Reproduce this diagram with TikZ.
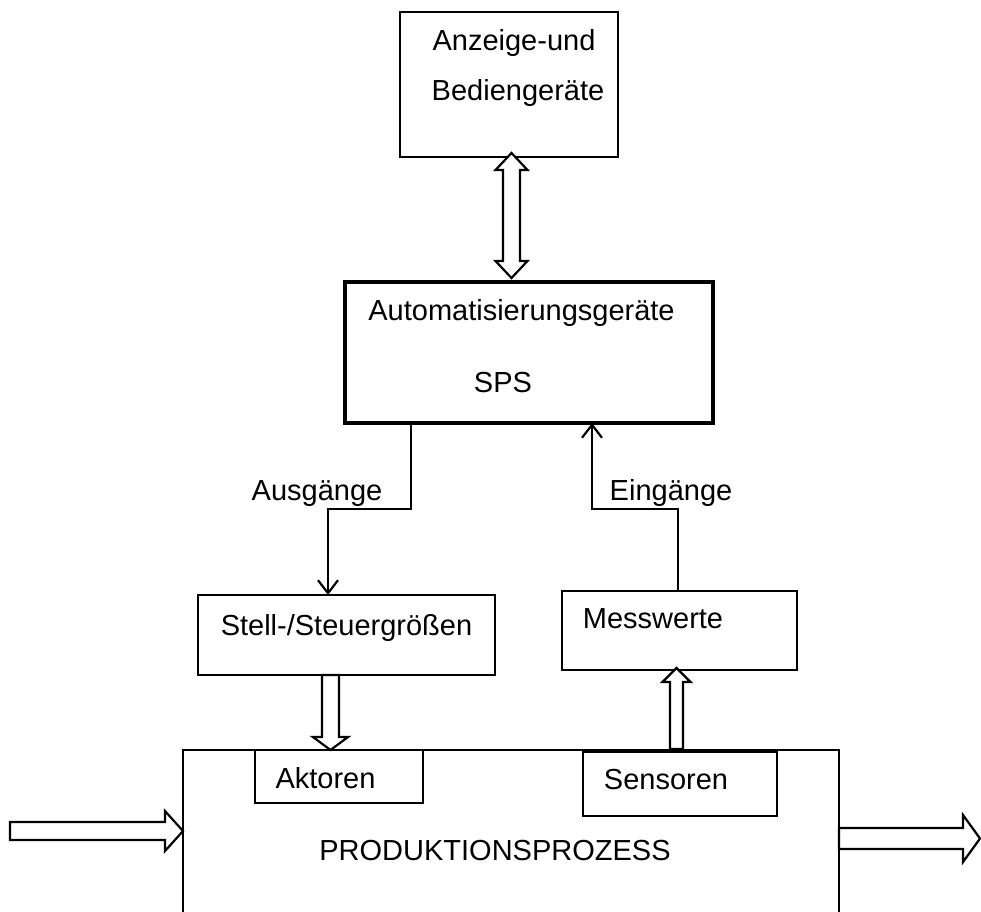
\documentclass[tikz,border=0pt]{standalone}
\usepackage{fontspec}
\setmainfont{Liberation Sans}
\usetikzlibrary{arrows.meta,calc}

\tikzset{
  box/.style={draw,line width=2.2pt,outer sep=0pt,inner sep=0pt},
  spsbox/.style={box,line width=4.7pt},
  txt/.style={inner sep=0pt,anchor=base,font=\fontsize{29}{35}\selectfont},
  link/.style={line width=2.2pt,-{Straight Barb[length=13pt,width=20pt]}},
  hollow/.style={draw,line width=2.2pt,fill=white}
}

\newcommand{\hollowarrow}[5]{%
  \coordinate (hb) at ($(#2)!#5!(#1)$);
  \draw[hollow] ($(#1)!#3!90:(#2)$) -- ($(hb)!#3!-90:(#1)$) -- ($(hb)!#4!-90:(#1)$) -- (#2)
    -- ($(hb)!#4!90:(#1)$) -- ($(hb)!#3!90:(#1)$) -- ($(#1)!#3!-90:(#2)$) -- cycle;}

\newcommand{\hollowdarrow}[5]{%
  \coordinate (ha) at ($(#1)!#5!(#2)$);
  \coordinate (hb) at ($(#2)!#5!(#1)$);
  \draw[hollow] (#1) -- ($(ha)!#4!90:(#2)$) -- ($(ha)!#3!90:(#2)$) -- ($(hb)!#3!-90:(#1)$)
    -- ($(hb)!#4!-90:(#1)$) -- (#2) -- ($(hb)!#4!90:(#1)$) -- ($(hb)!#3!90:(#1)$)
    -- ($(ha)!#3!-90:(#2)$) -- ($(ha)!#4!-90:(#2)$) -- cycle;}

\begin{document}
\begin{tikzpicture}[x=1pt,y=-1pt]
            \useasboundingbox (0,0) rectangle (981,911);
            \clip (0,0) rectangle (981,911);
            \node[box,minimum width=218pt,minimum height=145pt] (disp) at (509,84.5) {};
            \node[spsbox,minimum width=368pt,minimum height=141pt] (sps) at (529,352.5) {};
            \node[box,minimum width=297pt,minimum height=80pt] (stell) at (346.5,635) {};
            \node[box,minimum width=235pt,minimum height=79pt] (mess) at (679.5,630.5) {};
            \node[box,minimum width=656pt,minimum height=210pt] (proc) at (511,855) {};
            \node[box,minimum width=168pt,minimum height=53pt] (akt) at (339,776.5) {};
            \node[box,minimum width=194pt,minimum height=64pt] (sens) at (680,784) {};
            \node[txt] (disp-a) at (514,50) {Anzeige-und};
            \node[txt] (disp-b) at (518,100) {Bediengeräte};
            \node[txt] (sps-a) at (521.5,320) {Automatisierungsgeräte};
            \node[txt] (sps-b) at (503,392) {SPS};
            \node[txt] (stell-t) at (346.5,635) {Stell-/Steuergrößen};
            \node[txt] (mess-t) at (653,628) {Messwerte};
            \node[txt] (akt-t) at (325.5,788) {Aktoren};
            \node[txt] (sens-t) at (666,789) {Sensoren};
            \node[txt] (proc-t) at (495,860) {PRODUKTIONSPROZESS};
            \node[txt] (out-t) at (317,500) {Ausgänge};
            \node[txt] (in-t) at (671,500) {Eingänge};
            \draw[link] ([xshift=-118pt]sps.south) -- ++(0,86) -| ([xshift=-18.5pt]stell.north);
            \draw[link] ([xshift=-1.5pt]mess.north) -- ++(0,-82) -| ([xshift=63pt]sps.south);
            \coordinate (d1) at ([xshift=2.5pt,yshift=4pt]disp.south);
            \coordinate (d2) at ([xshift=-17.5pt,yshift=4pt]sps.north);
            \hollowdarrow{d1}{d2}{8.5pt}{16pt}{17pt}
            \coordinate (a1) at ([xshift=-16pt]stell.south);
            \coordinate (a2) at ([xshift=-8.5pt]akt.north);
            \hollowarrow{a1}{a2}{8.5pt}{17.5pt}{13pt}
            \coordinate (s1) at ([xshift=-3.5pt,yshift=3pt]sens.north);
            \coordinate (s2) at ([xshift=-3pt,yshift=2pt]mess.south);
            \hollowarrow{s1}{s2}{6.5pt}{14pt}{14pt}
            \coordinate (in) at (10,831);
            \coordinate (p1) at ([yshift=24pt]proc.west);
            \hollowarrow{in}{p1}{9pt}{20pt}{18pt}
            \coordinate (p2) at ([yshift=16.5pt]proc.east);
            \coordinate (out) at (980,838.5);
            \hollowarrow{p2}{out}{10.5pt}{23.5pt}{17pt}
          \end{tikzpicture}
\end{document}
